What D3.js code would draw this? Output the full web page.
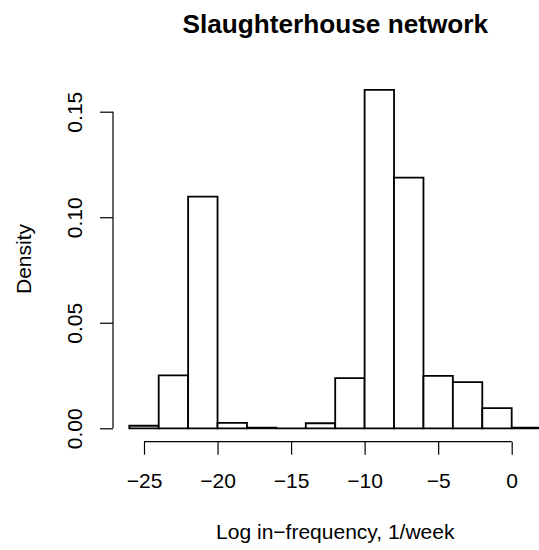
<!DOCTYPE html>
<html>
<head>
<meta charset="utf-8">
<script src="https://cdn.jsdelivr.net/npm/d3@7/dist/d3.min.js"></script>
<style>
  html, body { margin: 0; padding: 0; background: #fff; }
  svg { display: block; font-family: "Liberation Sans", Arial, Helvetica, sans-serif; }
</style>
</head>
<body>
<svg id="chart" width="539" height="550"></svg>
<script>
// Histogram bins (width 2) of log in-frequency and their densities
const binStarts = [-26, -24, -22, -20, -18, -16, -14, -12, -10, -8, -6, -4, -2, 0];
const binWidth = 2;
const densities = [0.0012, 0.0251, 0.1098, 0.0026, 0.0003, 0.0, 0.0024, 0.0238, 0.1603, 0.1188, 0.0248, 0.0219, 0.0096, 0.0003];
const xTicks = [-25, -20, -15, -10, -5, 0];
const yTicks = [0.00, 0.05, 0.10, 0.15];

const svg = d3.select("#chart");

const x = d3.scaleLinear().domain([-25, 0]).range([144, 511.7]);
const y = d3.scaleLinear().domain([0, 0.15]).range([428.3, 111.7]);

const fmtMinus = v => String(v).replace("-", "\u2212");
const FS = 21;

// bars: drawn as closed paths so empty bins still show their base line
svg.append("g")
  .selectAll("path")
  .data(binStarts.map((s, i) => ({ s, d: densities[i] })))
  .join("path")
  .attr("d", d => {
    const x0 = x(d.s), x1 = x(d.s + binWidth), y0 = y(0), y1 = y(d.d);
    return `M${x0},${y0}V${y1}H${x1}V${y0}Z`;
  })
  .attr("fill", "#fff")
  .attr("stroke", "#000")
  .attr("stroke-width", 1.8)
  .attr("stroke-linejoin", "miter");

// x axis
const xAxis = d3.axisBottom(x)
  .tickValues(xTicks)
  .tickSize(13)
  .tickPadding(0)
  .tickFormat(fmtMinus);
const gx = svg.append("g").attr("transform", "translate(0,441.7)").call(xAxis);
gx.select(".domain").attr("d", `M${x(-25)},0H${x(0)}`);
gx.selectAll(".tick text").attr("y", 46.5).attr("dy", null);

// y axis
const yAxis = d3.axisLeft(y)
  .tickValues(yTicks)
  .tickSize(13)
  .tickFormat(d3.format(".2f"));
const gy = svg.append("g").attr("transform", "translate(113,0)").call(yAxis);
gy.select(".domain").attr("d", `M0,${y(0)}V${y(0.15)}`);
// y tick labels read bottom-to-top, baseline parallel to the axis
gy.selectAll(".tick text")
  .attr("x", null).attr("y", null).attr("dy", null)
  .attr("text-anchor", "middle")
  .attr("transform", "translate(-31,0) rotate(-90)");

[gx, gy].forEach(g => {
  g.selectAll(".domain, .tick line").attr("stroke", "#000").attr("stroke-width", 1.2);
  g.selectAll(".tick text").attr("fill", "#000").attr("font-size", FS)
    .attr("font-family", "Liberation Sans, Arial, sans-serif");
});

// title
svg.append("text")
  .attr("x", 335.3).attr("y", 33)
  .attr("text-anchor", "middle")
  .attr("font-weight", "bold")
  .attr("font-size", 26.2)
  .text("Slaughterhouse network");

// axis titles
svg.append("text")
  .attr("x", 335.3).attr("y", 539)
  .attr("text-anchor", "middle")
  .attr("font-size", FS)
  .text("Log in\u2212frequency, 1/week");

svg.append("text")
  .attr("transform", "translate(30.9,259) rotate(-90)")
  .attr("text-anchor", "middle")
  .attr("font-size", FS)
  .text("Density");
</script>
</body>
</html>
